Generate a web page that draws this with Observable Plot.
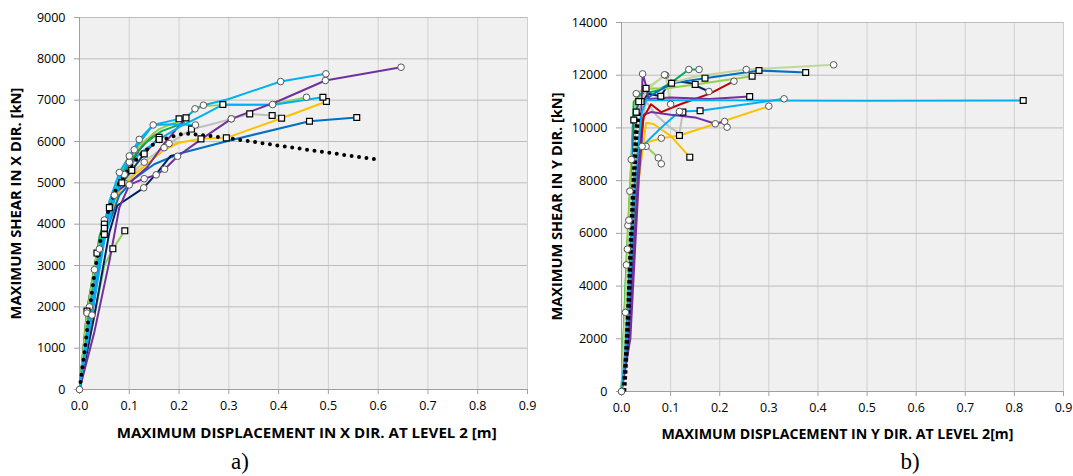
<!DOCTYPE html>
<html><head><meta charset="utf-8">
<script src="https://cdn.jsdelivr.net/npm/d3@7"></script>
<script src="https://cdn.jsdelivr.net/npm/@observablehq/plot@0.6"></script>
<style>
body{margin:0;background:#fff;width:1073px;height:476px;position:relative;overflow:hidden;font-family:"Open Sans",sans-serif}
#pa,#pb{position:absolute;top:0}
#pa{left:0}#pb{left:540px}
.t{position:absolute;font-family:"Open Sans";font-weight:bold;font-size:15px;white-space:nowrap;color:#000;line-height:1;transform-origin:center center}
.cap{position:absolute;font-family:"Liberation Serif",serif;font-size:23px;line-height:1;transform:translate(-50%,-50%)}
</style></head><body>
<div id="pa"></div><div id="pb"></div>
<script>
// ---------- shared ticks ----------
const xTicks = [0,0.1,0.2,0.3,0.4,0.5,0.6,0.7,0.8,0.9];
const yTicksA = [0,1000,2000,3000,4000,5000,6000,7000,8000,9000];
const yTicksB = [0,2000,4000,6000,8000,10000,12000,14000];

// ---------- panel a) data: [displacement m, shear kN, marker 0 none/1 circle/2 square] ----------
const A_cyan1 = [[0,0,0],[0.02,1750,0],[0.04,3400,1],[0.06,4550,0],[0.08,5250,1],[0.1,5650,1],[0.12,6050,1],[0.148,6400,1],[0.2,6548,2],[0.214,6572,2],[0.232,6790,1],[0.249,6878,1],[0.3,7030,0],[0.404,7450,1],[0.495,7637,1]];
const A_blue2 = [[0,0,0],[0.02,1700,0],[0.05,3900,2],[0.08,5100,0],[0.11,5800,1],[0.148,6400,0],[0.19,6420,0],[0.233,6400,1]];
const A_cyan2 = [[0,0,0],[0.025,1800,1],[0.05,3600,0],[0.07,4600,0],[0.09,5200,1],[0.12,5700,0],[0.16,6050,2],[0.2,6350,0],[0.25,6650,0],[0.288,6894,2],[0.39,6890,0],[0.489,7071,2]];
const A_lgreen = [[0,0,0],[0.015,1850,1],[0.035,3300,0],[0.06,4500,0],[0.09,5400,0],[0.12,5900,0],[0.16,6300,0],[0.2,6500,0],[0.245,6850,0],[0.28,6880,0],[0.388,6894,1],[0.456,7071,1]];
const A_gray = [[0,0,1],[0.02,2000,1],[0.045,3900,0],[0.07,4700,1],[0.1,5200,0],[0.14,5600,0],[0.18,5950,1],[0.225,6300,2],[0.26,6400,0],[0.305,6548,1],[0.342,6668,2],[0.387,6628,2],[0.4,6620,0]];
const A_orange = [[0,0,0],[0.02,1700,0],[0.05,3750,2],[0.08,4800,0],[0.11,5200,0],[0.14,5500,0],[0.17,5800,0],[0.2,5970,0],[0.244,6064,2],[0.295,6088,2],[0.406,6564,2],[0.496,6967,2]];
const A_blue = [[0,0,0],[0.02,1500,0],[0.05,3700,0],[0.08,4700,0],[0.11,5100,0],[0.15,5450,0],[0.203,5716,0],[0.3,6020,0],[0.462,6491,2],[0.557,6580,2]];
const A_navy = [[0,0,0],[0.03,1800,0],[0.06,3800,0],[0.076,4451,0],[0.129,4879,1],[0.16,5300,0],[0.183,5650,0],[0.2,5700,0]];
const A_purple = [[0,0,0],[0.03,1400,0],[0.06,3100,0],[0.08,4400,0],[0.1,4950,1],[0.13,5100,1],[0.154,5193,1],[0.171,5330,1],[0.197,5643,1],[0.25,6100,0],[0.305,6548,1],[0.4,6980,0],[0.494,7475,1],[0.646,7797,1]];
const A_purple2 = [[0,0,0],[0.025,1800,0],[0.05,3900,0],[0.075,4800,0],[0.1,5000,0],[0.136,5378,0],[0.17,5950,0],[0.209,6507,0]];
const A_green = [[0,0,0],[0.015,1700,0],[0.04,3700,0],[0.07,4800,0],[0.1,5500,1],[0.13,5950,0],[0.165,6250,0],[0.21,6450,0]];
const A_red = [[0,0,0],[0.02,1800,0],[0.05,4000,1],[0.09,5200,0],[0.12,5800,0],[0.15,6200,0]];
const A_lgreen2 = [[0,0,0],[0.03,1800,0],[0.05,3000,0],[0.067,3403,2],[0.091,3839,2]];
const A_olive = [[0,0,0],[0.02,2000,0],[0.03,2900,1],[0.05,4100,1],[0.09,5000,1],[0.13,5500,1],[0.17,5850,1],[0.2,6000,0]];
const A_dark = [[0,0,0],[0.015,1900,2],[0.035,3300,2],[0.05,4000,2],[0.06,4400,2],[0.085,5000,2],[0.105,5300,2],[0.13,5700,2],[0.16,6100,2]];
const A_dotted = [[0,0],[0.01,900],[0.02,1900],[0.03,2800],[0.04,3500],[0.05,4000],[0.06,4400],[0.07,4750],[0.08,5000],[0.1,5350],[0.12,5650],[0.15,5950],[0.18,6100],[0.21,6200],[0.25,6150],[0.3,6080],[0.4,5900],[0.5,5730],[0.6,5560]];

// ---------- panel b) data ----------
const B_olive = [[0,0,0],[0.008,3000,1],[0.02,7500,0],[0.03,10500,0],[0.05,11400,0],[0.0876,12016,1],[0.1,11700,0],[0.15,11950,0],[0.254,12217,1],[0.432,12395,1]];
const B_blue = [[0,0,0],[0.012,3000,0],[0.02,7000,0],[0.025,10300,2],[0.035,11000,2],[0.05,11100,0],[0.075,11400,0],[0.102,11697,2],[0.17,11887,2],[0.28,12179,2],[0.375,12103,2]];
const B_lgreen = [[0,0,0],[0.012,5400,1],[0.02,8800,1],[0.03,11300,1],[0.05,11500,2],[0.09,11500,0],[0.15,11650,2],[0.266,11963,2]];
const B_green = [[0,0,0],[0.01,4800,1],[0.015,6500,1],[0.025,11000,0],[0.04,11300,0],[0.07,11400,0],[0.1,11700,0],[0.137,12217,1],[0.158,12217,1]];
const B_navy = [[0,0,0],[0.01,2500,0],[0.022,8000,0],[0.03,10600,2],[0.04,11000,2],[0.055,11300,0],[0.08,11200,2],[0.1,11800,0],[0.14,11700,0],[0.178,11382,1]];
const B_red = [[0,0,0],[0.012,2500,0],[0.028,8000,0],[0.045,10400,0],[0.06,10900,0],[0.081,10597,0],[0.12,10900,0],[0.18,11300,0],[0.229,11773,1]];
const B_purple = [[0,0,0],[0.015,2000,0],[0.03,7000,0],[0.04,10500,0],[0.043,12050,1],[0.05,11600,0],[0.055,11100,0],[0.1,11150,0],[0.18,11100,0],[0.261,11192,2]];
const B_purple2 = [[0,0,0],[0.018,2000,0],[0.035,8000,0],[0.045,10500,0],[0.06,10600,0],[0.1,10500,0],[0.15,10400,0],[0.191,10157,1],[0.21,10244,1],[0.215,10028,1]];
const B_cyan = [[0,0,0],[0.01,2000,0],[0.028,8000,0],[0.04,10500,0],[0.05,11050,0],[0.2,11050,0],[0.5,11030,0],[0.818,11041,2]];
const B_cyan2 = [[0,0,0],[0.012,2000,0],[0.03,8500,0],[0.042,9300,1],[0.08,10000,0],[0.118,10623,1],[0.16,10650,2],[0.331,11104,1]];
const B_orange = [[0,0,0],[0.012,2000,0],[0.03,8000,0],[0.042,9400,0],[0.081,9610,1],[0.118,9713,2],[0.19,10150,0],[0.3,10825,1]];
const B_orange2 = [[0,0,0],[0.015,2000,0],[0.035,8000,0],[0.05,10200,0],[0.065,10150,0],[0.1,9700,0],[0.139,8890,2]];
const B_lgreen2 = [[0,0,1],[0.013,6300,1],[0.017,7600,1],[0.025,9000,0],[0.038,9600,0],[0.05,9300,1],[0.075,8866,1],[0.081,8638,1]];
const B_gray = [[0,0,0],[0.012,2500,0],[0.03,9000,0],[0.05,11000,0],[0.07,10500,0],[0.1,10000,0],[0.118,9800,0],[0.125,10600,2]];
const B_olive2 = [[0,0,0],[0.01,3000,0],[0.03,11000,0],[0.05,11500,0],[0.09,12000,1],[0.1,10900,1]];
const B_dotted = [[0.005,0],[0.01,1500],[0.015,3500],[0.02,6000],[0.025,8000],[0.03,9800],[0.035,10600]];

// ---------- colours ----------
const C = {cyan:"#00b0f0", blue:"#0070c0", navy:"#002060", purple:"#7030a0", lgreen:"#92d050",
  green:"#00b050", red:"#c00000", orange:"#ffc000", gray:"#bfbfbf", olive:"#c4d79b", dark:"#1f3864"};

const seriesA = [[A_gray,C.gray],[A_olive,C.olive],[A_lgreen2,C.lgreen],[A_red,C.red],[A_green,C.green],[A_dark,C.dark],
  [A_orange,C.orange],[A_blue,C.blue],[A_navy,C.navy],[A_purple2,C.purple],[A_lgreen,C.lgreen],[A_cyan2,C.cyan],
  [A_blue2,C.cyan],[A_purple,C.purple],[A_cyan1,C.cyan]];
const seriesB = [[B_gray,C.gray],[B_olive2,C.olive],[B_lgreen2,C.lgreen],[B_orange2,C.orange],[B_orange,C.orange],
  [B_cyan2,C.cyan],[B_purple2,C.purple],[B_red,C.red],[B_navy,C.navy],[B_green,C.green],[B_lgreen,C.lgreen],
  [B_blue,C.blue],[B_olive,C.olive],[B_purple,C.purple],[B_cyan,C.cyan]];

function panel(series, dotted, yTicks, yMax, opts, dotStyle) {
  const X = d => d[0], Y = d => d[1];
  const marks = [
    Plot.frame({fill:"#f0f0f0", stroke:null}),
    Plot.gridX(xTicks, {stroke:"#d0d0d0", strokeOpacity:1}),
    Plot.gridY(yTicks, {stroke:"#bcbcbc", strokeOpacity:1}),
    Plot.ruleY([0], {stroke:"#a0a0a0"}),
    Plot.ruleX([0], {stroke:"#a0a0a0"}),
    Plot.axisX(xTicks, {tickFormat: d3.format(".1f"), tickSize:5, tickPadding:7, fontSize:12.5, stroke:"#a0a0a0", label:null}),
    Plot.axisY(yTicks, {tickFormat: d => String(d), tickSize:5, tickPadding:opts.padY, fontSize:12.5, stroke:"#a0a0a0", label:null})
  ];
  for (const [s,c] of series) marks.push(Plot.line(s, {x:X, y:Y, stroke:c, strokeWidth:2}));
  marks.push(Plot.line(dotted, {x:X, y:Y, stroke:"#000", ...dotStyle}));
  for (const [s] of series) {
    marks.push(Plot.dot(s.filter(d => d[2] === 1), {x:X, y:Y, symbol:"circle", r:3.3, fill:"#fff", stroke:"#555", strokeWidth:1}));
    marks.push(Plot.dot(s.filter(d => d[2] === 2), {x:X, y:Y, symbol:"square", r:3.3, fill:"#fff", stroke:"#000", strokeWidth:1.2}));
  }
  return Plot.plot({
    width: opts.width, height: 476,
    marginLeft: opts.ml, marginRight: opts.mr, marginTop: opts.mt, marginBottom: opts.mb,
    style: {fontFamily:"Open Sans", color:"#000", background:"transparent", overflow:"visible"},
    x: {domain:[0,0.9]}, y: {domain:[0,yMax]},
    marks
  });
}

document.getElementById("pa").append(panel(seriesA, A_dotted, yTicksA, 9000,
  {width:540, ml:79, mr:13, mt:17, mb:87, padY:9},
  {strokeWidth:4, strokeDasharray:"0,7.5", strokeLinecap:"round"}));
document.getElementById("pb").append(panel(seriesB, B_dotted, yTicksB, 14000,
  {width:533, ml:81, mr:10, mt:22, mb:85, padY:9},
  {strokeWidth:4.5, strokeDasharray:"3.5,2.5", strokeLinecap:"butt"}));

// ---------- titles ----------
function title(text, cx, cy, len, rot) {
  const el = document.createElement("div");
  el.className = "t"; el.textContent = text;
  document.body.append(el);
  const r = el.getBoundingClientRect();
  const s = len / r.width;
  el.style.left = (cx - r.width/2) + "px";
  el.style.top = (cy - r.height/2) + "px";
  el.style.transform = (rot ? "rotate(-90deg) " : "") + "scaleX(" + s + ")";
}
title("MAXIMUM DISPLACEMENT IN X DIR. AT LEVEL 2 [m]", 307, 432, 380, false);
title("MAXIMUM SHEAR IN X DIR. [kN]", 16, 203, 232, true);
title("MAXIMUM DISPLACEMENT IN Y DIR. AT LEVEL 2[m]", 837, 433, 352, false);
title("MAXIMUM SHEAR IN Y DIR. [kN]", 557, 206, 228, true);
function cap(text, cx, cy) {
  const el = document.createElement("div");
  el.className = "cap"; el.textContent = text;
  el.style.left = cx + "px"; el.style.top = cy + "px";
  document.body.append(el);
}
cap("a)", 240, 461);
cap("b)", 910, 461);
</script>
</body></html>
